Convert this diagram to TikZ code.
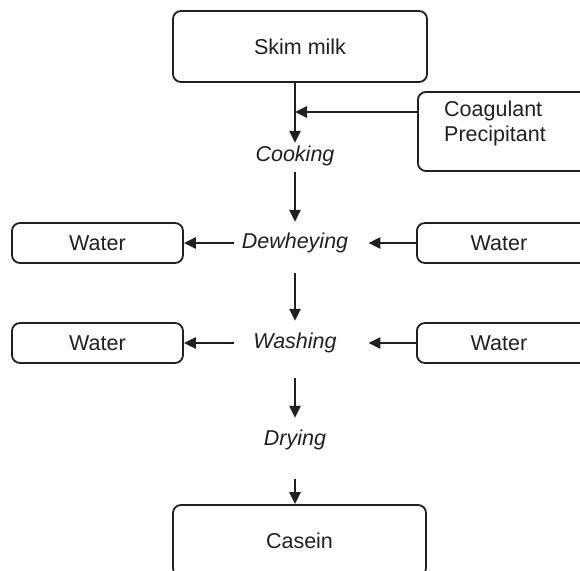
\documentclass[tikz,border=0pt]{standalone}
\usepackage{fontspec}
\setmainfont{Liberation Sans}
\usepackage{xcolor}
\usetikzlibrary{arrows.meta}
\definecolor{ink}{RGB}{35,31,32}

\begin{document}
\begin{tikzpicture}[x=1bp, y=-1bp,
    font=\fontsize{21.5bp}{25bp}\selectfont, color=ink,
    box/.style={rectangle, draw=ink, line width=1.8bp, rounded corners=8bp},
    stepnode/.style={inner sep=0pt, text height=15bp, text depth=5bp, font=\fontsize{21.5bp}{25bp}\selectfont\itshape},
    flow/.style={-{Triangle[length=12bp, width=11bp]}, line width=2.8bp, draw=ink}]
    \clip (0,0) rectangle (580,571);
    % Nodes
    \node (skim) [box, minimum width=254bp, minimum height=71bp] at (300,46.5) {Skim milk};
    \node (coag) [box, anchor=west, minimum width=200bp, minimum height=79bp] at (417,131.5) {};
    \node (coagtxt) [anchor=west, align=left, inner sep=0pt] at (444,123) {Coagulant\\Precipitant};

    \node (cook) [stepnode] at (295,157) {Cooking};
    \node (dew) [stepnode] at (295,243) {Dewheying};
    \node (wash) [stepnode] at (295,343) {Washing};
    \node (dry) [stepnode] at (295,440) {Drying};

    \node (wl1) [box, minimum width=171bp, minimum height=40bp] at (97.5,243) {Water};
    \node (wr1) [box, anchor=west, minimum width=200bp, minimum height=40bp] at (416,243) {};
    \node (wr1txt) at (499,243) {Water};
    \node (wl2) [box, minimum width=171bp, minimum height=40bp] at (97.5,343) {Water};
    \node (wr2) [box, anchor=west, minimum width=200bp, minimum height=40bp] at (416,343) {};
    \node (wr2txt) at (499,343) {Water};

    \node (casein) [box, minimum width=253bp, minimum height=71bp] at (299.5,540.5) {Casein};

    % Connections
    \draw [flow] (cook |- skim.south) -- ([yshift=4bp]cook.north);
    \draw [flow] ([yshift=19.5bp]coag.west) -- ([yshift=19.5bp]coag.west -| cook);
    \draw [flow] ([yshift=-5bp]cook.south) -- ([yshift=11bp]dew.north);
    \draw [flow] ([yshift=-20bp]dew.south) -- ([yshift=12bp]wash.north);
    \draw [flow] ([yshift=-25bp]wash.south) -- ([yshift=12bp]dry.north);
    \draw [flow] ([yshift=-29bp]dry.south) -- (casein.north -| dry);

    \draw [flow] ([xshift=-8bp]dew.west) -- (wl1.east);
    \draw [flow] (wr1.west) -- ([xshift=20bp]dew.east);
    \draw [flow] (wash.west -| dew.west) ++(-8bp,0) -- (wl2.east);
    \draw [flow] (wr2.west) -- ([xshift=20bp]wash.west -| dew.east);
\end{tikzpicture}
\end{document}
